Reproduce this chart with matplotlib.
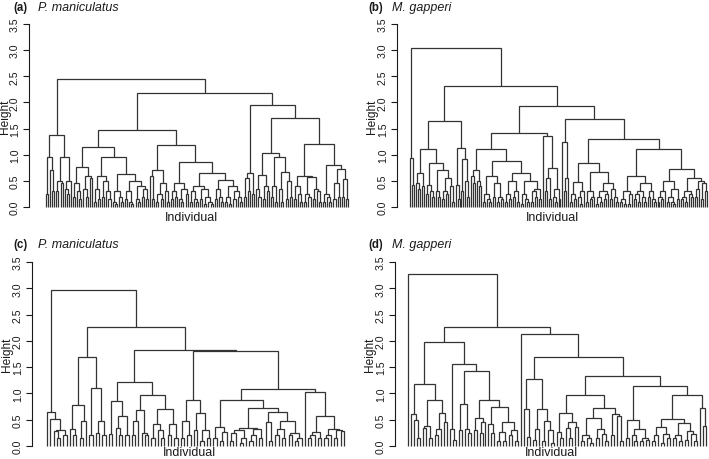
import re
import matplotlib
matplotlib.use("Agg")
import matplotlib.pyplot as plt
from matplotlib.collections import LineCollection

plt.rcParams['font.family'] = ['Liberation Sans', 'DejaVu Sans']

# ---------------- data: dendrograms as "(left,right)height" strings, x = leaf ----
# Panel (a) P. maniculatus
A_L1 = "(((x,x).25,(x,(x,x).3).7).95,(((x,x).3,(x,x).45).5,((x,(x,x).25).35,x).5).95)1.37"
A_M1a = "(((x,x).2,(x,(x,x).15).3).45,((x,(x,x).2).35,(x,x).55).6).76"
A_M1bl = "(((x,x).1,(x,x).15).35,((x,x).2,(x,(x,x).15).3).5).6"
A_M1br = ("(((x,(x,x).05).1,(x,(x,x).1).2).3,(((x,x).15,(x,(x,x).05).1).3,"
          "((x,(x,x).1).15,((x,x).2,(x,x).15).35).4).49).64")
A_M2a = "((x,(x,x).15).6,(((x,x).1,(x,x).15).25,(x,(x,x).1).3).45).7"
A_M2bl = "(((x,x).15,(x,x).2).3,((x,(x,x).1).15,(x,x).25).35).46"
A_M2br1 = "(((x,x).1,(x,(x,x).1).15).3,((x,x).15,((x,x).05,(x,(x,x).05).1).2).35).41"
A_M2br2 = "(((x,x).15,(x,(x,x).1).2).35,(((x,x).1,(x,x).05).2,((x,x).15,(x,(x,x).1).2).3).4).51"
A_N0 = "(((x,x).2,(x,x).3).55,(x,x).25).65"
A_N1a = "((x,(x,x).2).35,((x,x).15,(x,x).3).4).62"
A_N1b = "(((x,x).2,(x,x).1).4,((x,(x,x).1).35,((x,x).15,(x,x).2).5).67).95"
A_N2a = "(((x,x).15,(x,(x,x).1).25).4,(((x,x).1,(x,x).2).25,((x,x).15,(x,(x,x).1).3).35).57).6"
A_N2b = "(((x,x).1,(x,(x,x).1).2).25,(((x,x).15,(x,x).2).45,((x,x).2,(x,x).15).53).73).8"

A_M = ("((" + A_M1a + ",(" + A_M1bl + "," + A_M1br + ").95)1.15,"
       "(" + A_M2a + ",(" + A_M2bl + ",(" + A_M2br1 + "," + A_M2br2 + ").65).87)1.18)1.48")
A_N = "(" + A_N0 + ",((" + A_N1a + "," + A_N1b + ")1.03,(" + A_N2a + "," + A_N2b + ")1.2)1.7)1.95"
TREE_A = "(" + A_L1 + ",(" + A_M + "," + A_N + ")2.18)2.45"

# Panel (b) M. gapperi
B_0 = "(x,(x,x).42).94"
B_11a = "((x,(x,x).35).45,(x,x).4).65"
B_11b = ("(((x,x).25,(x,(x,x).2).3).42,((x,(x,x).2).3,(((x,x).15,(x,x).25).3,"
         "(x,(x,x).1).4).55).7).85")
B_12 = "((x,(x,x).15).42,((x,x).3,(x,(x,x).2).5).92)1.12"
B_2a = "((x,(x,x).45).6,(x,(x,x).4).5).7"
B_2b = "(((x,x).1,(x,(x,x).1).15).25,((x,x).2,((x,x).1,(x,x).15).2).45).6"
B_2c = ("((((x,x).1,(x,x).15).25,((x,x).2,(x,x).1).3).5,(((x,x).05,(x,(x,x).1).15).25,"
        "(((x,x).1,(x,x).2).3,(x,x).15).35).5).65")
B_135 = "(x,(((x,x).3,(x,x).15).55,((x,(x,x).1).2,(x,x).15).35).75)1.35"
B_124 = "(x,((x,x).3,x).55)1.24"
B_3a = "(((x,x).1,(x,x).15).25,((x,(x,x).05).2,x).3).48"
B_3b = ("(((x,x).1,((x,x).15,x).2).3,((((x,x).05,(x,x).1).2,((x,x).15,x).25).3,"
        "((x,x).15,(x,(x,x).1).2).35).45).67")
B_3c = ("((((x,x).1,(x,x).05).15,((x,x).05,x).25).3,((((x,x).15,(x,x).1).25,"
        "(x,(x,x).1).2).3,((x,x).2,(x,(x,x).1).15).3).45).6")
B_3d = ("(((((x,x).1,(x,x).15).2,x).3,(((x,x).1,(x,(x,x).05).1).2,(x,x).15).35).5,"
        "((((x,x).15,(x,x).1).2,(x,(x,x).2).25).3,(((x,x).2,x).35,((x,x).15,(x,x).3).45).5).55).73")
B_1 = "((" + B_11a + "," + B_11b + ")1.1," + B_12 + ")1.64"
B_2 = "((" + B_2a + ",(" + B_2b + "," + B_2c + ").88)1.1," + B_135 + ")1.42"
B_3 = "((" + B_3a + "," + B_3b + ").85,(" + B_3c + "," + B_3d + ")1.1)1.3"
TREE_B = "(" + B_0 + ",(" + B_1 + ",(" + B_2 + ",(" + B_124 + "," + B_3 + ")1.68)1.93)2.31)3.05"

# Panel (c) P. maniculatus
C_0 = "(x,(x,((x,(x,x).15).28,(x,x).2).3).52).65"
C_1a = "((x,(x,x).2).32,((x,x).15,x).47).78"
C_1b = "((x,x).2,((x,x).25,(x,x).2).47)1.1"
C_2a = "((x,x).22,((x,(x,x).2).35,(x,x).2).57).86"
C_2b1 = "(((x,x).2,x).48,(x,(x,x).2).25).68"
C_2b2 = "(((x,x).15,(x,(x,x).15).3).42,((x,x).2,(x,x).15).42).7"
C_3a = "(((x,x).15,(x,x).2).47,((x,x).3,((x,x).1,(x,x).15).3).63).88"
C_3b1 = "((x,x).15,((x,x).1,x).27).37"
C_3b2a = "((((x,x).1,x).25,((x,x).05,x).15).3,(((x,x).1,x).2,(x,x).15).33).34"
C_3b2b = "((x,(x,x).1).45,(((x,x).2,(x,x).15).32,((x,x).2,((x,x).1,x).15).25).48).64"
C_3c = "(x,((((x,x).15,x).2,(x,x).15).26,(((x,x).15,x).2,((x,x).15,(x,x).28).3).33).58)1.02"
C_1 = "(" + C_1a + "," + C_1b + ")1.69"
C_2 = "(" + C_2a + ",(" + C_2b1 + "," + C_2b2 + ").97)1.22"
C_3 = "(" + C_3a + ",((" + C_3b1 + ",(" + C_3b2a + "," + C_3b2b + ").72).87," + C_3c + ")1.08)1.8"
TREE_C = "(" + C_0 + ",(" + C_1 + ",(" + C_2 + "," + C_3 + ")1.82)2.27)2.97"

# Panel (d) M. gapperi
D_1a = "((x,(x,(x,x).15).5).6,(((x,x).35,(x,x).15).38,(((x,x).2,x).33,(x,x).45).63).88)1.17"
D_1b1 = "((x,x).3,(x,(x,x).25).32).8"
D_1b2 = "((x,x).3,((x,x).25,x).45).53"
D_1b3 = "((x,(x,x).25).42,(((x,x).1,(x,x).1).27,((x,x).2,(x,x).1).3).45).75"
D_128 = "((x,(x,x).17).7,(((x,x).12,x).33,((x,x).1,(x,(x,x).05).3).48).7)1.28"
D_2a = "((x,(x,x).15).27,((x,(x,x).15).35,(x,x).37).45).63"
D_2b = "(((x,x).1,(x,(x,x).05).15).2,((x,x).15,(x,(x,x).1).22).33).53"
D_2c = "((x,x).2,(x,(x,x).1).58).6"
D_3a = "((x,x).15,((x,(x,x).1).2,((x,x).1,(x,x).12).15).33).5"
D_3b = ("((((x,x).1,x).2,((x,x).05,(x,x).15).22).37,(((x,x).15,(x,x).1).2,"
        "((x,x).12,(x,(x,x).1).22).28).43).52")
D_3c = "(x,(x,x).38).73"
D_1 = "(" + D_1a + ",((x,(x,x).12).33,(" + D_1b1 + ",(" + D_1b2 + "," + D_1b3 + ").88)1.42)1.56)1.97"
D_133 = "((" + D_2a + ",(" + D_2b + "," + D_2c + ").72).97,(" + D_3a + ",(" + D_3b + "," + D_3c + ").97)1.15)1.33"
D_2 = "(x,(" + D_128 + "," + D_133 + ")1.7)2.13"
TREE_D = "(x,(" + D_1 + "," + D_2 + ")2.26)3.28"

PANEL_TREES = [TREE_A, TREE_B, TREE_C, TREE_D]
PANEL_TAGS = ["(a)", "(b)", "(c)", "(d)"]
PANEL_SPECIES = ["P. maniculatus", "M. gapperi", "P. maniculatus", "M. gapperi"]
Y_TICKS = [0.0, 0.5, 1.0, 1.5, 2.0, 2.5, 3.0, 3.5]
Y_TICK_LABELS = ["0.0", "0.5", "1.0", "1.5", "2.0", "2.5", "3.0", "3.5"]
Y_LABEL = "Height"
X_LABEL = "Individual"

# ---------------- layout (pixels in a 709 x 460 figure) ----------------
W, H = 709, 460
# spine_x, leaf_left, leaf_right, y_zero, y_top, title_y, xlabel_y, tag_x, species_x, ylabel_x
LAYOUT = [
    (29, 46, 348, 208, 25, 8, 218, 13, 38, 4.5),
    (397, 410, 707, 208, 25, 8, 218, 368, 392, 372),
    (32, 47, 344, 447, 263, 245, 453, 13, 38, 7.5),
    (395, 408, 706, 447, 263, 245, 453, 368, 392, 370),
]

LINE_COLOR = "#333333"
TEXT_COLOR = "#1a1a1a"


def parse_tree(s):
    pos = 0

    def node():
        nonlocal pos
        if s[pos] == "x":
            pos += 1
            return None
        pos += 1  # '('
        left = node()
        pos += 1  # ','
        right = node()
        pos += 1  # ')'
        m = re.match(r"[0-9.]+", s[pos:])
        pos += len(m.group())
        return (float(m.group()), left, right)

    return node()


def dendro_segments(tree):
    count = [0]
    segs = []

    def rec(t):
        if t is None:
            count[0] += 1
            return float(count[0]), 0.0
        h, l, r = t
        xl, hl = rec(l)
        xr, hr = rec(r)
        segs.append([(xl, hl), (xl, h), (xr, h), (xr, hr)])
        return (xl + xr) / 2.0, h

    rec(tree)
    return segs, count[0]


fig = plt.figure(figsize=(W / 100, H / 100), dpi=100)

for tree_s, tag, sp, lay in zip(PANEL_TREES, PANEL_TAGS, PANEL_SPECIES, LAYOUT):
    sx, ll, lr, y0, yt, ty, xly, tagx, spx, ylx = lay
    right_px = lr + 3
    ax = fig.add_axes([sx / W, 1 - y0 / H, (right_px - sx) / W, (y0 - yt) / H])
    segs, n = dendro_segments(parse_tree(tree_s))
    s = (lr - ll) / (n - 1)
    ax.set_xlim(1 - (ll - sx) / s, n + (right_px - lr) / s)
    ax.set_ylim(0, 3.5)
    lc = LineCollection(segs, colors=LINE_COLOR, linewidths=0.9, capstyle="butt",
                        joinstyle="miter", clip_on=False)
    ax.add_collection(lc)
    for k in ["top", "right", "bottom"]:
        ax.spines[k].set_visible(False)
    ax.spines["left"].set_bounds(0, 3.5)
    ax.spines["left"].set_color(TEXT_COLOR)
    ax.spines["left"].set_linewidth(0.8)
    ax.set_xticks([])
    ax.set_yticks(Y_TICKS)
    ax.set_yticklabels(Y_TICK_LABELS, rotation=90, va="center")
    ax.tick_params(axis="y", length=4, width=0.8, pad=2.6, labelsize=7.6,
                   colors=TEXT_COLOR, direction="out")
    ax.patch.set_alpha(0)

    fig.text(ylx / W, 1 - ((y0 + yt) / 2) / H, Y_LABEL, rotation=90,
             ha="center", va="center", fontsize=8.6, color=TEXT_COLOR)
    fig.text(((ll + lr) / 2 - 6) / W, 1 - xly / H, X_LABEL, ha="center", va="center",
             fontsize=9, color=TEXT_COLOR)
    fig.text(tagx / W, 1 - ty / H, tag, ha="left", va="center", fontsize=8.3,
             fontweight="bold", color=TEXT_COLOR)
    fig.text(spx / W, 1 - ty / H, sp, ha="left", va="center", fontsize=9,
             fontstyle="italic", color=TEXT_COLOR)

fig.savefig("out.png", dpi=100)
